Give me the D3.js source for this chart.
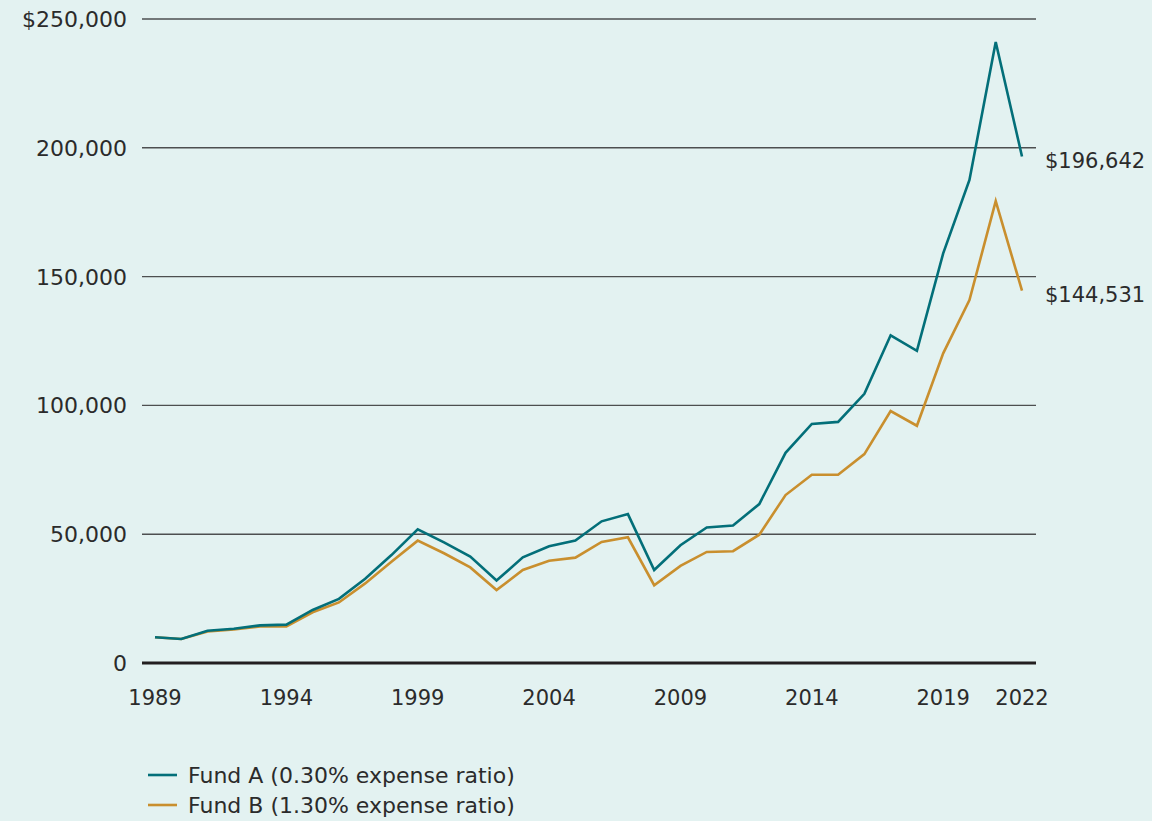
<!DOCTYPE html>
<html>
<head>
<meta charset="utf-8">
<script src="https://cdn.jsdelivr.net/npm/d3@7"></script>
<style>
  html, body { margin: 0; padding: 0; background: #e3f2f1; }
  svg { display: block; font-family: "DejaVu Sans", "Noto Sans", sans-serif; }
</style>
</head>
<body>
<svg width="1152" height="821"></svg>
<script>
const years = d3.range(1989, 2023);

// growth of $10,000
const fundA = [
  10000, 9300, 12500, 13300, 14600, 14900, 20600, 24900, 32700, 41900,
  51900, 46800, 41300, 32000, 41000, 45300, 47500, 55000, 57800, 36100,
  45700, 52600, 53400, 61700, 81600, 92800, 93600, 104500, 127200, 121200,
  159000, 187500, 241100, 196642
];
const fundB = [
  10000, 9300, 12200, 13000, 14200, 14200, 19700, 23500, 30900, 39300,
  47500, 42600, 37100, 28300, 36100, 39700, 40900, 47000, 48800, 30200,
  37700, 43100, 43400, 49800, 65200, 73100, 73100, 81100, 97800, 92100,
  120200, 140900, 179300, 144531
];

const seriesNames = ['Fund A (0.30% expense ratio)', 'Fund B (1.30% expense ratio)'];
const seriesColors = ['#036f79', '#c98f2e'];
const yTicks = [0, 50000, 100000, 150000, 200000, 250000];
const xTicks = [1989, 1994, 1999, 2004, 2009, 2014, 2019, 2022];
const endLabels = ['$196,642', '$144,531'];

const svg = d3.select('svg');
const gridLeft = 142, gridRight = 1036;

const x = d3.scaleLinear().domain([1989, 2022]).range([155, 1022]);
const y = d3.scaleLinear().domain([0, 250000]).range([663, 19]);

// grid lines
svg.append('g')
  .selectAll('line')
  .data(yTicks.filter(d => d > 0))
  .join('line')
  .attr('x1', gridLeft).attr('x2', gridRight)
  .attr('y1', d => y(d)).attr('y2', d => y(d))
  .attr('stroke', '#4d4f50')
  .attr('stroke-width', 1.4);

// y labels
svg.append('g')
  .selectAll('text')
  .data(yTicks)
  .join('text')
  .attr('x', 127)
  .attr('y', d => y(d))
  .attr('dy', '0.36em')
  .attr('text-anchor', 'end')
  .attr('font-size', 22)
  .attr('fill', '#2b2b2b')
  .text(d => d === 250000 ? '$' + d3.format(',')(d) : d3.format(',')(d));

// x labels
svg.append('g')
  .selectAll('text')
  .data(xTicks)
  .join('text')
  .attr('x', d => x(d))
  .attr('y', 697)
  .attr('dy', '0.36em')
  .attr('text-anchor', 'middle')
  .attr('font-size', 21)
  .attr('fill', '#2b2b2b')
  .text(d => d);

const line = d3.line()
  .x((d, i) => x(years[i]))
  .y(d => y(d));

[fundB, fundA].forEach((vals, k) => {
  svg.append('path')
    .datum(vals)
    .attr('d', line)
    .attr('fill', 'none')
    .attr('stroke', seriesColors[1 - k])
    .attr('stroke-width', 2.6)
    .attr('stroke-linejoin', 'miter');
});

// zero baseline
svg.append('line')
  .attr('x1', gridLeft).attr('x2', gridRight)
  .attr('y1', y(0)).attr('y2', y(0))
  .attr('stroke', '#231f20')
  .attr('stroke-width', 3);

// end labels
[fundA, fundB].forEach((vals, k) => {
  svg.append('text')
    .attr('x', 1045)
    .attr('y', y(vals[vals.length - 1]) + 4)
    .attr('dy', '0.36em')
    .attr('font-size', 21)
    .attr('fill', '#2b2b2b')
    .text(endLabels[k]);
});

// legend
const legend = svg.append('g');
seriesNames.forEach((name, i) => {
  const ly = 775 + i * 30;
  legend.append('line')
    .attr('x1', 148).attr('x2', 177)
    .attr('y1', ly).attr('y2', ly)
    .attr('stroke', seriesColors[i])
    .attr('stroke-width', 2.6);
  legend.append('text')
    .attr('x', 188)
    .attr('y', ly)
    .attr('dy', '0.36em')
    .attr('font-size', 22)
    .attr('fill', '#2b2b2b')
    .text(name);
});
</script>
</body>
</html>
